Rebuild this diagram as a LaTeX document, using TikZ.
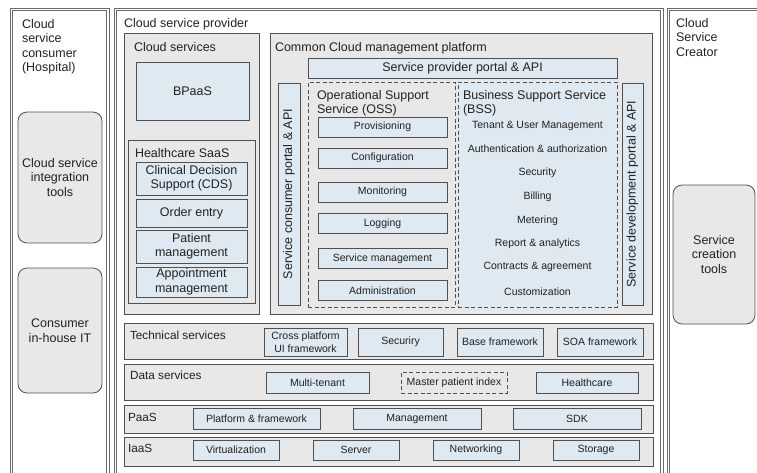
\documentclass[tikz,border=0pt]{standalone}
\usepackage{fontspec}
\setmainfont{Liberation Sans}
\usetikzlibrary{positioning}

\definecolor{edgegray}{HTML}{505050}
\definecolor{secgray}{HTML}{E8E8E8}
\definecolor{itemblue}{HTML}{DEE9F1}
\definecolor{inkgray}{HTML}{222222}

\begin{document}
\begin{tikzpicture}[
  x=1pt, y=-1pt,
  every node/.style={text=inkgray, inner sep=0pt, outer sep=0pt},
  sz/.style 2 args={minimum width=#1pt, minimum height=#2pt},
  head/.style={font=\fontsize{12.5}{14.5}\selectfont},
  small/.style={font=\fontsize{10.5}{12.5}\selectfont},
  outerbox/.style={draw=edgegray!85, line width=0.6pt},
  innerline/.style={draw=edgegray!85, line width=0.6pt},
  section/.style={draw=edgegray, line width=0.8pt, fill=secgray},
  item/.style={draw=edgegray, line width=0.8pt, fill=itemblue, align=center},
  dashbox/.style={draw=edgegray, line width=0.8pt, dash pattern=on 4pt off 2.5pt},
  tool/.style={draw=edgegray, line width=0.8pt, fill=secgray, rounded corners=9pt, align=center, head},
  title/.style={anchor=north west, align=left, head}
]
\useasboundingbox (0,0) rectangle (757,472);

% outer columns
\node[outerbox, sz={99}{472}] (consumer) at (59.5,244) {};
\node[outerbox, sz={549}{472}] (provider) at (388.5,244) {};
\node[outerbox, sz={103}{472}] (creator) at (718.5,244) {};
\foreach \col in {consumer, provider, creator}
  \draw[innerline] ([shift={(2.4pt,-2.4pt)}]\col.north west) rectangle ([shift={(-2.4pt,2.4pt)}]\col.south east);
\node[title] (consumerlbl) at (22,19) {Cloud\\service\\consumer\\(Hospital)};
\node[title] (providerlbl) at (124,18) {Cloud service provider};
\node[title] (creatorlbl) at (676,18) {Cloud\\Service\\Creator};

% consumer and creator tools
\node[tool, sz={84}{131}] (integ) at (60,177.5) {Cloud service\\integration\\tools};
\node[tool, sz={84}{125}] (inhouse) at (60,330.5) {Consumer\\in-house IT};
\node[tool, sz={82}{139}] (creatools) at (714,254.5) {Service\\creation\\tools};

% cloud services
\node[section, sz={135}{281}] (cloudsvc) at (191.5,173.5) {};
\node[title] (cloudsvclbl) at (134,42) {Cloud services};
\node[item, head, sz={113}{58}] (bpaas) at (192.5,91) {BPaaS};
\node[section, sz={127}{163}] (hcsaas) at (191.5,221.5) {};
\node[title] (hcsaaslbl) at (135,148) {Healthcare SaaS};
\node[item, head, sz={111}{33}] (cds) at (191.5,178.5) {Clinical Decision\\Support (CDS)};
\node[item, head, sz={111}{28}] (order) at (191.5,213) {Order entry};
\node[item, head, sz={111}{33}] (patient) at (191.5,246.5) {Patient\\management};
\node[item, head, sz={111}{30}] (appoint) at (191.5,282) {Appointment\\management};

% common cloud management platform
\node[section, sz={382}{281}] (ccmp) at (461,173.5) {};
\node[title] (ccmplbl) at (275,42) {Common Cloud management platform};
\node[item, head, sz={309}{20}] (spportal) at (462.5,68) {Service provider portal \& API};
\node[item, head, rotate=90, sz={222}{22}] (scportal) at (289,194) {Service consumer portal \& API};
\node[item, head, rotate=90, sz={222}{21}] (sdportal) at (632.5,194) {Service development portal \& API};

% OSS
\node[dashbox, fill=secgray, sz={147}{225}] (oss) at (381.5,194.5) {};
\node[title, font=\fontsize{12.5}{14}\selectfont] (osslbl) at (317,90) {Operational Support\\Service (OSS)};
\foreach \nm/\yy/\txt in {prov/127/Provisioning, conf/158/Configuration, mon/192/Monitoring,
    logg/223.5/Logging, svcmgmt/258.5/Service management, admin/290.5/Administration}
  \node[item, small, sz={129}{20}] (\nm) at (382.5,\yy) {\txt};

% BSS
\node[dashbox, fill=itemblue, sz={159}{225}] (bss) at (537.5,194.5) {};
\node[title, font=\fontsize{12.5}{14}\selectfont] (bsslbl) at (463,90) {Business Support Service\\(BSS)};
\foreach \nm/\yy/\txt in {tenant/126/Tenant \& User Management, auth/149/Authentication \& authorization,
    secur/173/Security, bill/197/Billing, meter/221/Metering, report/244/Report \& analytics,
    contract/267/Contracts \& agreement, custom/292/Customization}
  \node[small] (\nm) at (537.5,\yy) {\txt};

% layered rows
\node[section, sz={529}{36}] (tech) at (388.5,341) {};
\node[title, font=\fontsize{11.8}{14}\selectfont] (techlbl) at (130,331) {Technical services};
\node[item, small, sz={83}{28}] (crossui) at (305.5,342) {Cross platform\\UI framework};
\node[item, small, sz={85}{28}] (securiry) at (400.5,342) {Securiry};
\node[item, small, sz={86}{28}] (basefw) at (500,342) {Base framework};
\node[item, small, sz={86}{28}] (soafw) at (600,342) {SOA framework};

\node[section, sz={529}{36}] (data) at (388.5,382) {};
\node[title, font=\fontsize{11.8}{14}\selectfont] (datalbl) at (130,371) {Data services};
\node[item, small, sz={103}{21}] (multi) at (317.5,382.5) {Multi-tenant};
\node[dashbox, small, sz={106}{21}] (mpi) at (454,382.5) {Master patient index};
\node[item, small, sz={102}{21}] (hcare) at (587,382.5) {Healthcare};

\node[section, sz={529}{28}] (paas) at (388.5,419) {};
\node[title, font=\fontsize{11.8}{14}\selectfont] (paaslbl) at (128,413) {PaaS};
\node[item, small, sz={127}{21}] (platfw) at (256.5,418.5) {Platform \& framework};
\node[item, small, sz={128}{21}] (mgmt) at (417,418.5) {Management};
\node[item, small, sz={128}{21}] (sdk) at (577,418.5) {SDK};

\node[section, sz={529}{29}] (iaas) at (388.5,451.5) {};
\node[title, font=\fontsize{11.8}{14}\selectfont] (iaaslbl) at (128,444) {IaaS};
\node[item, small, sz={86}{20}] (virt) at (236,450) {Virtualization};
\node[item, small, sz={86}{20}] (server) at (356,450) {Server};
\node[item, small, sz={86}{20}] (network) at (476,450) {Networking};
\node[item, small, sz={86}{20}] (storage) at (596,450) {Storage};
\end{tikzpicture}
\end{document}
